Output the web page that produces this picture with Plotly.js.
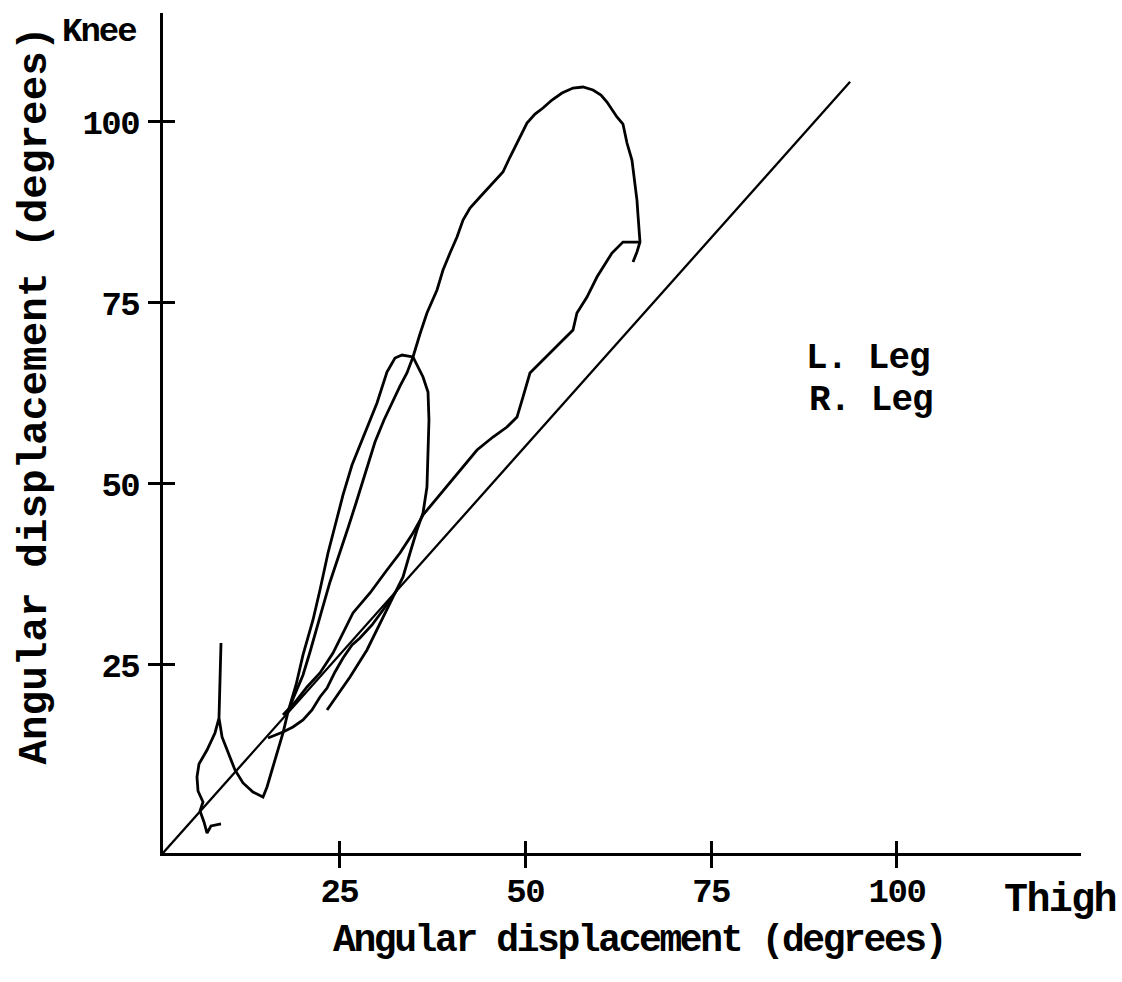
<!DOCTYPE html>
<html>
<head>
<meta charset="utf-8">
<script src="https://cdn.plot.ly/plotly-3.0.1.min.js"></script>
<style>
  html, body { margin: 0; padding: 0; background: #fff; }
  #chart { width: 1122px; height: 982px; }
  /* tighter typewriter-style spacing for the labels */
  #chart .xtick text, #chart .ytick text { letter-spacing: -1.5px; }
  #chart g.annotation[data-index="0"] text { letter-spacing: -2.4px; }
  #chart g.annotation[data-index="2"] text { letter-spacing: -1.6px; }
  #chart g.annotation[data-index="3"] text { letter-spacing: -2px; }
  #chart g.annotation[data-index="4"] text,
  #chart g.annotation[data-index="5"] text { letter-spacing: -1px; }
</style>
</head>
<body>
<div id="chart"></div>
<script>
// Thigh vs knee angular displacement (degrees), one path per leg.
// null entries break a path where the pen was lifted.

const lLegThigh = [9.09, 7.75, 7.21, 6.80, 6.27, 6.67, 6.00, 5.86, 6.13, 7.21, 8.28, 8.82, 9.09, 8.82,
  9.23, 10.03, 10.97, 12.05, 13.39, 14.74, 15.28, 15.95, 16.76, 17.43, 18.10, 19.18, 20.12, 21.46,
  22.40, 23.48, 24.56, 25.50, 26.71, 28.19, 30.07, 31.41, 32.49, 33.43, 34.91, 36.26, 36.93, 37.06,
  36.93, 36.79, 36.26, 35.45, 34.51, 33.57, 32.22, 30.47, 28.72, 26.44, 23.35];
const lLegKnee = [3.04, 2.76, 1.79, 3.31, 4.83, 6.07, 7.59, 9.53, 11.32, 13.25, 15.60, 17.67, 28.02, 17.67,
  15.05, 12.84, 10.49, 8.70, 7.45, 6.76, 8.14, 10.49, 13.25, 15.60, 18.50, 22.23, 26.37, 31.20,
  35.34, 40.45, 44.73, 48.46, 52.60, 56.46, 61.16, 65.44, 67.37, 67.78, 67.51, 64.75, 62.67, 58.81,
  54.25, 49.56, 45.97, 43.62, 40.45, 37.14, 34.37, 30.78, 27.06, 23.33, 18.77];

const rLegThigh = [18.37, 19.31, 20.12, 21.06, 21.87, 22.67, 23.75, 25.09, 26.17, 27.25, 28.59, 29.80,
  31.01, 32.09, 33.16, 34.10, 34.91, 35.85, 36.79, 38.14, 38.95, 39.89, 40.83, 41.64, 42.58, 43.92,
  45.67, 47.01, 47.96, 48.90, 50.24, 51.32, 52.39, 53.60, 54.95, 56.43, 57.77, 59.12, 60.19, 61.00,
  62.34, 63.15, 63.69, 64.36, 64.76, 65.03, 65.17, 65.30, 65.44, 65.03, 64.50,
  null,
  65.44, 63.15, 61.67, 59.65, 58.31, 56.96, 56.43, 55.08, 52.39, 50.64, 49.70, 48.90, 47.55, 45.67,
  43.52, 41.64, 39.89, 38.00, 36.26, 34.91, 33.16, 31.41, 29.13, 26.84, 25.50, 24.15, 22.40, 20.66,
  19.31, 18.10, 17.43,
  null,
  15.41, 16.49, 17.43, 18.77, 20.12, 21.33, 22.40, 23.35, 24.42, 25.50, 26.71, 27.78, 29.40, 30.88, 32.76];
const rLegKnee = [19.33, 21.54, 23.61, 26.78, 29.82, 32.58, 36.45, 40.45, 43.90, 47.35, 51.91, 55.77,
  58.81, 61.29, 63.50, 65.30, 67.51, 70.68, 73.58, 76.76, 79.52, 81.86, 84.07, 86.42, 88.08, 89.59,
  91.53, 93.05, 95.12, 97.05, 99.81, 101.05, 101.88, 102.99, 103.95, 104.64, 104.78, 104.37, 103.68, 102.71,
  100.64, 99.67, 97.05, 94.70, 91.53, 89.18, 87.11, 85.04, 83.38, 82.00, 80.62,
  null,
  83.38, 83.38, 81.86, 78.55, 75.79, 73.58, 71.23, 69.85, 67.09, 65.30, 61.98, 59.22, 57.84, 56.46,
  54.67, 52.32, 50.11, 47.77, 45.70, 43.21, 40.45, 38.10, 34.93, 32.17, 29.40, 26.64, 23.88, 21.95,
  20.16, 18.77, 18.08,
  null,
  14.91, 15.32, 15.74, 16.43, 17.39, 18.77, 20.57, 21.81, 24.02, 25.95, 27.75, 28.71, 30.51, 32.58, 35.34];

// Straight reference line from the axis corner
const refThigh = [1.29, 93.7];
const refKnee = [-0.97, 105.5];

const xTickVals = [25, 50, 75, 100];
const xTickText = ['25', '50', '75', '100'];
const yTickVals = [25, 50, 75, 100];
const yTickText = ['25', '50', '75', '100'];

const legendLabels = ['L. Leg', 'R. Leg'];
const xTitle = 'Angular displacement (degrees)';
const yTitle = 'Angular displacement (degrees)';
const xEndLabel = 'Thigh';
const yEndLabel = 'Knee';

const xRange = [1.29, 124.75];
const yRange = [-0.97, 115.0];

const ink = '#000000';
const mono = '"Liberation Mono", "Courier New", monospace';

const pathLine = { color: ink, width: 2.8 };

const traces = [
  { x: lLegThigh, y: lLegKnee, name: legendLabels[0], mode: 'lines', line: pathLine,
    connectgaps: false, hoverinfo: 'skip', showlegend: false },
  { x: rLegThigh, y: rLegKnee, name: legendLabels[1], mode: 'lines', line: pathLine,
    connectgaps: false, hoverinfo: 'skip', showlegend: false },
  { x: refThigh, y: refKnee, xaxis: 'x2', yaxis: 'y2', mode: 'lines',
    line: { color: ink, width: 2.3 }, hoverinfo: 'skip', showlegend: false }
];

const tickFont = { family: mono, size: 34, color: ink, weight: 'bold' };

const baseAxis = {
  showgrid: false, zeroline: false, fixedrange: true,
  tickcolor: ink, tickwidth: 3, ticklen: 12
};

const layout = {
  width: 1122, height: 982,
  paper_bgcolor: '#ffffff', plot_bgcolor: '#ffffff',
  margin: { l: 163, r: 41, t: 13, b: 129, pad: 0 },
  showlegend: false,
  xaxis: Object.assign({}, baseAxis, {
    range: xRange, showline: true, linecolor: ink, linewidth: 3,
    ticks: 'outside', tickmode: 'array', tickvals: xTickVals, ticktext: xTickText,
    tickfont: tickFont, ticklabelstandoff: -7
  }),
  yaxis: Object.assign({}, baseAxis, {
    range: yRange, showline: true, linecolor: ink, linewidth: 3,
    ticks: 'outside', tickmode: 'array', tickvals: yTickVals, ticktext: yTickText,
    tickfont: tickFont, ticklabelstandoff: 2
  }),
  // second pair of axes carries the inner half of each tick mark
  xaxis2: Object.assign({}, baseAxis, {
    range: xRange, overlaying: 'x', anchor: 'y2', side: 'bottom',
    showline: false, ticks: 'inside', tickmode: 'array', tickvals: xTickVals,
    showticklabels: false
  }),
  yaxis2: Object.assign({}, baseAxis, {
    range: yRange, overlaying: 'y', anchor: 'x2', side: 'left',
    showline: false, ticks: 'inside', tickmode: 'array', tickvals: yTickVals,
    showticklabels: false
  }),
  annotations: [
    { text: xTitle, xref: 'paper', yref: 'paper', x: 0.5185, y: -0.1036,
      xanchor: 'center', yanchor: 'middle', showarrow: false,
      font: { family: mono, size: 38, color: ink, weight: 'bold' } },
    { text: yTitle, xref: 'paper', yref: 'paper', x: -0.139, y: 0.545, textangle: -90,
      xanchor: 'center', yanchor: 'middle', showarrow: false,
      font: { family: mono, size: 41, color: ink, weight: 'bold' } },
    { text: xEndLabel, xref: 'paper', yref: 'paper', x: 0.9771, y: -0.056,
      xanchor: 'center', yanchor: 'middle', showarrow: false,
      font: { family: mono, size: 40, color: ink, weight: 'bold' } },
    { text: yEndLabel, xref: 'paper', yref: 'paper', x: -0.0700, y: 0.9774,
      xanchor: 'center', yanchor: 'middle', showarrow: false,
      font: { family: mono, size: 34, color: ink, weight: 'bold' } },
    { text: legendLabels[0], xref: 'paper', yref: 'paper', x: 0.768, y: 0.589,
      xanchor: 'center', yanchor: 'middle', showarrow: false,
      font: { family: mono, size: 36, color: ink, weight: 'bold' } },
    { text: legendLabels[1], xref: 'paper', yref: 'paper', x: 0.771, y: 0.539,
      xanchor: 'center', yanchor: 'middle', showarrow: false,
      font: { family: mono, size: 36, color: ink, weight: 'bold' } }
  ]
};

Plotly.newPlot('chart', traces, layout, { displayModeBar: false, staticPlot: true });
</script>
</body>
</html>
